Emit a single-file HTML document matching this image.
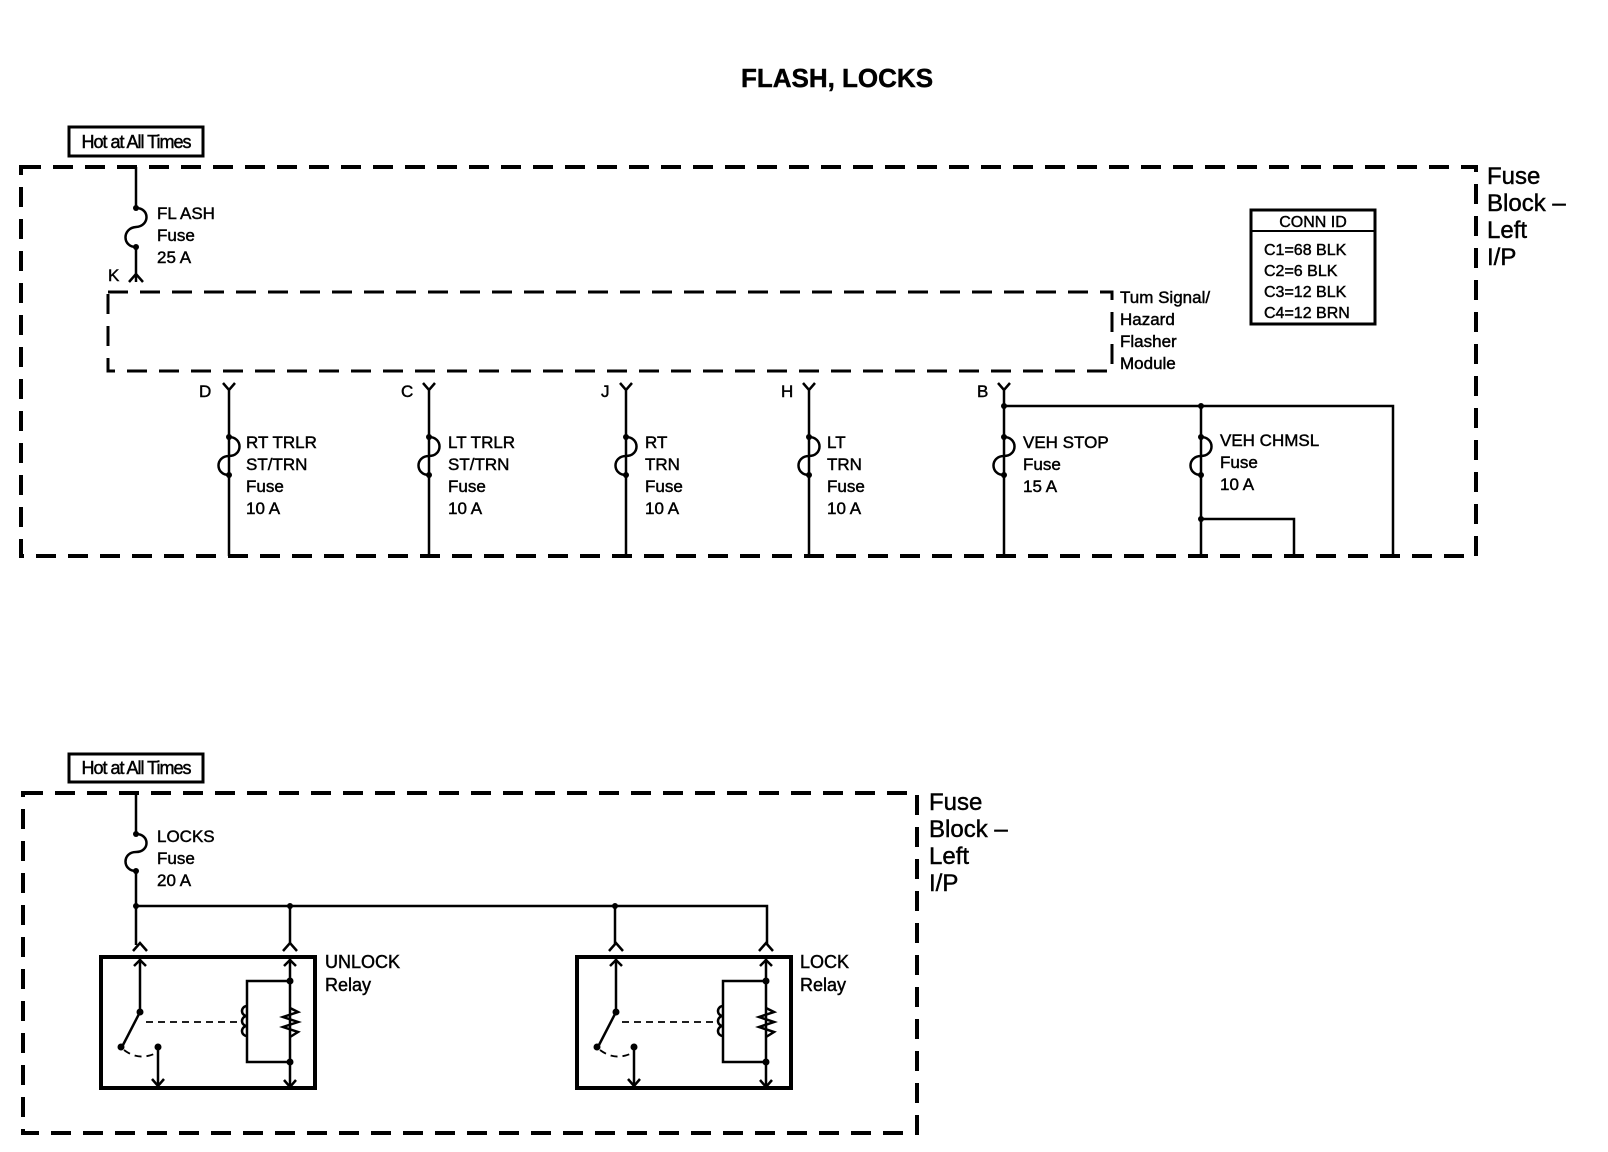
<!DOCTYPE html>
<html><head><style>
html,body{margin:0;padding:0;background:#fff;}
svg{display:block;}
text{font-family:"Liberation Sans",Arial,sans-serif;fill:#000;stroke:#000;stroke-width:0.45px;}
</style></head><body>
<svg width="1608" height="1152" viewBox="0 0 1608 1152" xmlns="http://www.w3.org/2000/svg">
<g fill="none" stroke="#000">
<text x="837" y="87" font-size="26" font-weight="bold" text-anchor="middle">FLASH, LOCKS</text>

<!-- TOP SECTION -->
<rect x="69" y="127" width="134" height="29" stroke-width="3"/>
<text x="136" y="148" font-size="18" text-anchor="middle" letter-spacing="-1">Hot at All Times</text>
<rect x="21" y="167" width="1455" height="389" stroke-width="4" stroke-dasharray="20,12"/>
<text font-size="24" x="1487" y="184">Fuse</text>
<text font-size="24" x="1487" y="211">Block –</text>
<text font-size="24" x="1487" y="238">Left</text>
<text font-size="24" x="1487" y="265">I/P</text>

<rect x="1251" y="210" width="124" height="114" stroke-width="3"/>
<line x1="1251" y1="231" x2="1375" y2="231" stroke-width="2"/>
<text font-size="16" x="1313" y="227" text-anchor="middle">CONN ID</text>
<text font-size="16" x="1264" y="255">C1=68 BLK</text>
<text font-size="16" x="1264" y="276">C2=6 BLK</text>
<text font-size="16" x="1264" y="297">C3=12 BLK</text>
<text font-size="16" x="1264" y="318">C4=12 BRN</text>

<!-- FLASH fuse -->
<g stroke-width="2.5">
<line x1="136" y1="167" x2="136" y2="208"/>
<path d="M136 208 C150 208 150 226 136 227 C122 228 122 247 136 247"/>
<line x1="136" y1="247" x2="136" y2="282"/>
<path d="M129 282 L136 274 L143 282"/>
</g>
<circle cx="136" cy="208" r="3" fill="#000" stroke="none"/>
<circle cx="136" cy="247" r="3" fill="#000" stroke="none"/>
<text font-size="17" x="108" y="281">K</text>
<text font-size="17" x="157" y="219">FL ASH</text>
<text font-size="17" x="157" y="241">Fuse</text>
<text font-size="17" x="157" y="263">25 A</text>

<rect x="108" y="292" width="1004" height="79" stroke-width="3" stroke-dasharray="20,12"/>
<text font-size="17" x="1120" y="303">Tum Signal/</text>
<text font-size="17" x="1120" y="325">Hazard</text>
<text font-size="17" x="1120" y="347">Flasher</text>
<text font-size="17" x="1120" y="369">Module</text>

<!-- Fuse columns -->
<g stroke-width="2.5">
<path d="M223 383 L229 390 L235 383 M229 390 L229 556"/>
<path d="M229 437 C243 437 243 456 229 456 C215 456 215 475 229 475"/>
<path d="M423 383 L429 390 L435 383 M429 390 L429 556"/>
<path d="M429 437 C443 437 443 456 429 456 C415 456 415 475 429 475"/>
<path d="M620 383 L626 390 L632 383 M626 390 L626 556"/>
<path d="M626 437 C640 437 640 456 626 456 C612 456 612 475 626 475"/>
<path d="M803 383 L809 390 L815 383 M809 390 L809 556"/>
<path d="M809 437 C823 437 823 456 809 456 C795 456 795 475 809 475"/>
<path d="M998 383 L1004 390 L1010 383 M1004 390 L1004 556"/>
<path d="M1004 437 C1018 437 1018 456 1004 456 C990 456 990 475 1004 475"/>
<path d="M1004 406 L1393 406 L1393 556"/>
<path d="M1201 406 L1201 556"/>
<path d="M1201 437 C1215 437 1215 456 1201 456 C1187 456 1187 475 1201 475"/>
<path d="M1201 519 L1294 519 L1294 556"/>
</g>
<g fill="#000" stroke="none">
<circle cx="229" cy="437" r="3"/><circle cx="229" cy="475" r="3"/>
<circle cx="429" cy="437" r="3"/><circle cx="429" cy="475" r="3"/>
<circle cx="626" cy="437" r="3"/><circle cx="626" cy="475" r="3"/>
<circle cx="809" cy="437" r="3"/><circle cx="809" cy="475" r="3"/>
<circle cx="1004" cy="437" r="3"/><circle cx="1004" cy="475" r="3"/><circle cx="1004" cy="406" r="3"/>
<circle cx="1201" cy="437" r="3"/><circle cx="1201" cy="475" r="3"/><circle cx="1201" cy="406" r="3"/><circle cx="1201" cy="519" r="3"/>
</g>
<g font-size="17">
<text x="199" y="397">D</text><text x="401" y="397">C</text><text x="601" y="397">J</text><text x="781" y="397">H</text><text x="977" y="397">B</text>
<text x="246" y="448">RT TRLR</text><text x="246" y="470">ST/TRN</text><text x="246" y="492">Fuse</text><text x="246" y="514">10 A</text>
<text x="448" y="448">LT TRLR</text><text x="448" y="470">ST/TRN</text><text x="448" y="492">Fuse</text><text x="448" y="514">10 A</text>
<text x="645" y="448">RT</text><text x="645" y="470">TRN</text><text x="645" y="492">Fuse</text><text x="645" y="514">10 A</text>
<text x="827" y="448">LT</text><text x="827" y="470">TRN</text><text x="827" y="492">Fuse</text><text x="827" y="514">10 A</text>
<text x="1023" y="448">VEH STOP</text><text x="1023" y="470">Fuse</text><text x="1023" y="492">15 A</text>
<text x="1220" y="446">VEH CHMSL</text><text x="1220" y="468">Fuse</text><text x="1220" y="490">10 A</text>
</g>

<!-- BOTTOM SECTION -->
<rect x="69" y="754" width="134" height="28" stroke-width="3"/>
<text x="136" y="774" font-size="18" text-anchor="middle" letter-spacing="-1">Hot at All Times</text>
<rect x="23" y="793" width="894" height="340" stroke-width="4" stroke-dasharray="20,12"/>
<text font-size="24" x="929" y="810">Fuse</text>
<text font-size="24" x="929" y="837">Block –</text>
<text font-size="24" x="929" y="864">Left</text>
<text font-size="24" x="929" y="891">I/P</text>

<g stroke-width="2.5">
<line x1="136" y1="793" x2="136" y2="834"/>
<path d="M136 834 C150 834 150 852 136 852 C122 852 122 871 136 871"/>
<line x1="136" y1="871" x2="136" y2="945"/>
<path d="M136 906 L767 906 L767 945"/>
<line x1="290" y1="906" x2="290" y2="945"/>
<line x1="615" y1="906" x2="615" y2="945"/>
</g>
<g fill="#000" stroke="none">
<circle cx="136" cy="834" r="3"/><circle cx="136" cy="871" r="3"/>
<circle cx="136" cy="906" r="3"/><circle cx="290" cy="906" r="3"/><circle cx="615" cy="906" r="3"/>
</g>
<text font-size="17" x="157" y="842">LOCKS</text>
<text font-size="17" x="157" y="864">Fuse</text>
<text font-size="17" x="157" y="886">20 A</text>

<g id="relay1">
<g stroke-width="2.5">
<path d="M133 951 L140 943 L147 951"/>
<path d="M283 951 L290 943 L297 951"/>
</g>
<rect x="101" y="957" width="214" height="131" stroke-width="4"/>
<g stroke-width="2.5">
<line x1="140" y1="958" x2="140" y2="1012"/>
<path d="M134 966 L140 960 L146 966"/>
<line x1="140" y1="1012" x2="123" y2="1045"/>
<line x1="158" y1="1047" x2="158" y2="1086"/>
<path d="M152 1079 L158 1086 L164 1079"/>
<line x1="290" y1="958" x2="290" y2="1087"/>
<path d="M284 966 L290 960 L296 966"/>
<path d="M284 1080 L290 1087 L296 1080"/>
<path d="M290 981 L247 981 L247 1062 L290 1062"/>
<path d="M247 1006 a5 5 0 0 0 0 10 a5 5 0 0 0 0 10 a5 5 0 0 0 0 10" />
<path d="M290 1008 L298 1012 L283 1017 L298 1022 L283 1027 L298 1032 L290 1037"/>
</g>
<g stroke-width="1.8" stroke-dasharray="7,5">
<line x1="146" y1="1022" x2="240" y2="1022"/>
<path d="M124 1050 Q140 1062 158 1052"/>
</g>
<g fill="#000" stroke="none">
<circle cx="140" cy="1012" r="3.5"/><circle cx="121" cy="1047" r="3.5"/><circle cx="158" cy="1047" r="3.5"/>
<circle cx="290" cy="981" r="3.5"/><circle cx="290" cy="1062" r="3.5"/>
</g>
</g>
<use href="#relay1" x="476" y="0"/>
<text font-size="18" x="325" y="968">UNLOCK</text>
<text font-size="18" x="325" y="991">Relay</text>
<text font-size="18" x="800" y="968">LOCK</text>
<text font-size="18" x="800" y="991">Relay</text>
</g>
</svg>
</body></html>
